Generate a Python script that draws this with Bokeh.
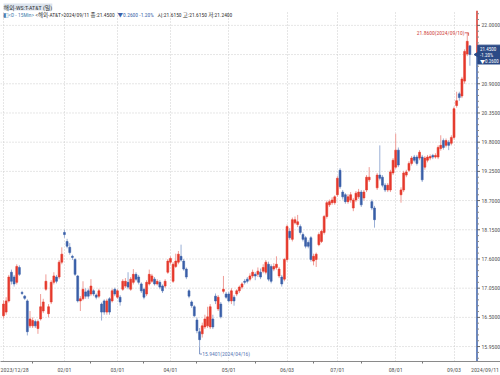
import math
import pandas as pd
from bokeh.plotting import figure
from bokeh.models import Range1d, FixedTicker, Label, ColumnDataSource
from bokeh.embed import file_html
from bokeh.resources import INLINE
from bokeh.core.properties import value

# ---------------- data (AT&T daily, 2023/12/28 - 2024/09/11) ----------------
holidays = ["2024-01-01", "2024-01-15", "2024-02-19", "2024-03-29",
            "2024-05-27", "2024-06-19", "2024-07-04", "2024-09-02"]

opens = [16.53,16.60,16.81,17.35,17.26,17.16,17.44,16.97,16.90,16.81,16.34,16.34,16.42,16.29,16.47,16.62,17.03,16.57,16.79,17.16,17.26,17.26,17.54,18.10,17.93,17.82,17.65,17.59,17.28,16.81,16.85,16.98,17.00,16.94,17.00,16.92,16.90,16.75,16.81,16.60,16.85,16.81,17.03,16.88,16.88,17.03,17.09,
         17.16,17.03,17.16,17.31,17.26,17.13,17.03,16.94,17.13,17.18,17.22,17.13,17.16,17.09,17.09,17.35,17.54,17.18,17.46,17.54,17.65,17.56,17.41,17.00,16.79,16.70,16.45,16.23,16.19,16.32,16.34,16.32,16.47,16.90,16.66,16.75,16.99,16.94,16.94,16.81,16.88,16.94,17.00,17.07,
         17.18,17.22,17.22,17.28,17.31,17.31,17.35,17.37,17.35,17.50,17.46,17.41,17.44,17.28,17.26,17.22,17.59,18.12,17.97,18.28,18.25,18.21,18.06,18.00,17.91,18.00,17.56,17.59,17.87,17.93,18.10,18.40,18.62,18.66,18.66,18.81,19.27,18.86,18.81,18.68,18.71,18.56,18.71,18.77,18.86,18.75,
         18.90,19.09,18.68,18.56,18.94,19.18,19.14,18.99,18.90,18.90,19.22,19.33,19.65,18.81,18.90,19.18,19.27,19.40,19.52,19.52,19.50,19.52,19.33,19.46,19.50,19.55,19.52,19.52,19.68,19.83,19.74,19.80,19.78,19.89,20.49,20.71,20.67,20.95,21.46,21.615]
highs = [16.82,16.88,17.30,17.40,17.30,17.50,17.48,17.00,16.92,16.84,16.62,16.50,16.46,16.46,16.94,16.85,17.31,16.75,17.20,17.35,17.30,17.58,17.82,18.15,17.98,17.90,17.68,17.62,17.30,16.90,17.18,17.05,17.04,17.22,17.03,16.95,17.04,16.78,16.84,16.85,16.88,17.04,17.06,17.03,16.92,17.22,17.24,
         17.35,17.26,17.41,17.35,17.30,17.16,17.06,17.20,17.40,17.32,17.26,17.22,17.20,17.12,17.22,17.60,17.65,17.54,17.70,17.75,17.87,17.60,17.44,17.03,16.82,16.73,16.50,16.30,16.40,16.55,16.70,16.75,16.55,16.95,16.92,16.79,17.28,16.98,16.98,17.05,16.92,17.03,17.10,17.16,
         17.22,17.26,17.33,17.40,17.35,17.44,17.42,17.50,17.58,17.55,17.50,17.52,17.65,17.45,17.30,17.62,18.25,18.18,18.38,18.40,18.43,18.25,18.10,18.03,17.95,18.03,17.70,17.72,18.10,18.15,18.43,18.70,18.72,18.76,18.80,19.16,19.31,18.90,18.84,18.82,18.86,18.75,18.88,18.92,18.90,18.90,
         19.18,19.33,18.72,18.60,19.22,19.74,19.18,19.03,19.03,19.28,19.50,19.96,19.70,18.95,19.26,19.28,19.44,19.54,19.56,19.56,19.65,19.56,19.54,19.56,19.57,19.58,19.59,19.74,19.93,19.87,19.87,19.84,19.93,20.47,20.75,20.75,21.03,21.55,21.86,21.615]
lows = [16.48,16.55,16.78,17.12,17.08,17.12,17.28,16.92,16.83,16.16,16.30,16.30,16.30,16.19,16.44,16.58,17.00,16.50,16.75,17.12,17.14,17.22,17.50,18.00,17.80,17.68,17.58,17.28,16.78,16.62,16.82,16.85,16.85,16.90,16.90,16.84,16.86,16.44,16.55,16.55,16.55,16.78,16.90,16.85,16.72,17.00,17.05,
        17.03,17.00,17.12,17.18,17.12,16.96,16.84,16.90,17.10,17.15,17.10,17.10,17.03,16.96,17.05,17.32,17.50,17.15,17.43,17.50,17.55,17.38,17.22,16.86,16.68,16.50,16.20,15.9401,16.12,16.28,16.30,16.28,16.28,16.75,16.62,16.48,16.95,16.85,16.78,16.75,16.72,16.90,16.96,17.03,
        17.12,17.14,17.18,17.24,17.20,17.26,17.22,17.33,17.31,17.18,17.14,17.37,17.40,17.24,17.08,17.18,17.55,17.96,17.93,18.25,18.20,18.06,17.93,17.80,17.80,17.55,17.48,17.45,17.84,17.90,18.06,18.36,18.58,18.62,18.62,18.77,18.92,18.72,18.64,18.64,18.66,18.50,18.67,18.73,18.58,18.70,
        18.86,19.05,18.52,18.19,18.90,19.08,18.95,18.86,18.86,18.86,19.18,19.30,19.33,18.66,18.86,19.14,19.24,19.36,19.42,19.36,19.46,19.05,19.28,19.42,19.46,19.48,19.49,19.48,19.64,19.66,19.70,19.65,19.74,19.85,20.45,20.58,20.63,20.90,21.42,21.24]
closes = [16.75,16.81,17.26,17.18,17.13,17.46,17.31,16.95,16.86,16.23,16.47,16.44,16.34,16.42,16.70,16.79,17.18,16.70,17.16,17.28,17.18,17.54,17.69,18.06,17.84,17.72,17.63,17.31,16.81,16.85,17.03,16.90,16.90,17.09,16.94,16.88,17.00,16.60,16.60,16.81,16.60,17.00,16.94,17.00,16.79,17.18,17.18,
          17.07,17.22,17.31,17.22,17.16,17.00,16.88,17.16,17.31,17.28,17.13,17.18,17.07,17.00,17.18,17.56,17.61,17.50,17.56,17.69,17.58,17.41,17.26,16.90,16.72,16.53,16.25,16.08,16.34,16.47,16.51,16.70,16.32,16.81,16.88,16.51,17.03,16.88,16.81,17.00,16.81,17.00,17.07,17.13,
          17.16,17.18,17.28,17.35,17.28,17.37,17.26,17.44,17.54,17.22,17.18,17.46,17.50,17.41,17.13,17.59,18.21,18.00,18.34,18.34,18.30,18.10,17.97,17.84,17.84,17.59,17.65,17.69,18.06,18.12,18.40,18.66,18.68,18.71,18.77,19.12,18.96,18.77,18.68,18.77,18.81,18.71,18.84,18.86,18.62,18.86,
          19.14,19.14,18.56,18.34,19.18,19.12,18.99,18.90,18.99,19.24,19.46,19.65,19.37,18.90,19.22,19.24,19.40,19.50,19.46,19.40,19.61,19.09,19.50,19.52,19.53,19.52,19.55,19.70,19.74,19.70,19.83,19.74,19.89,20.43,20.58,20.64,20.99,21.51,21.70,21.45]

ytick_values = [15.95, 16.50, 17.05, 17.60, 18.15, 18.70, 19.25, 19.80, 20.35, 20.90, 21.45, 22.00]
last_price = 21.45
change_text = "▼0.2600"
pct_text = "-1.20%"
title_text = "해외-WS:T-AT&T (일)"
header_parts = ["◧<D - 15Min>", "<해외-AT&T>2024/09/11 종:21.4500", "▼0.2600  -1.20%",
                "시:21.6150 고:21.6150 저:21.2400"]

# ---------------- derived ----------------
days = [d for d in pd.bdate_range("2023-12-28", "2024-09-11") if d.strftime("%Y-%m-%d") not in holidays]
n = min(len(days), len(opens))
days = days[:n]
idx = list(range(n))

W, H = 500, 375
TOP, BOT = 10, 11
FRAME_H = H - TOP - BOT
STEP = 2.65                      # px per trading day
x0 = -3 / STEP
x1 = x0 + W / STEP
px_x = (x1 - x0) / W
y1 = 22.0 + 15 * 0.55 / 29.45
y0 = y1 - FRAME_H * 0.55 / 29.45
px_y = (y1 - y0) / FRAME_H
axis_x = x0 + 476.5 * px_x

RED, BLUE = "#e5392c", "#3a5fa8"
RED_W, BLUE_W = "#ef9d97", "#9aafd6"
NAVY = "#2b4a86"
up = [c >= o for o, c in zip(opens[:n], closes[:n])]
src = ColumnDataSource(dict(
    x=idx,
    top=[max(o, c) for o, c in zip(opens[:n], closes[:n])],
    bot=[min(o, c) for o, c in zip(opens[:n], closes[:n])],
    hi=highs[:n], lo=lows[:n],
    col=[RED if u else BLUE for u in up],
    wcol=[RED_W if u else BLUE_W for u in up],
))

month_idx = [i for i in range(1, n) if days[i].month != days[i - 1].month and days[i].year == days[i - 1].year]
mid_idx = [i for i in range(1, n) if days[i].day >= 15 and days[i - 1].day < 15]

FONT = "Liberation Sans Narrow, Arial Narrow, Roboto Condensed, Noto Sans CJK KR, sans-serif"

p = figure(width=W, height=H, output_backend="svg", toolbar_location=None,
           x_range=Range1d(x0, x1), y_range=Range1d(y0, y1),
           y_axis_location=None,
           min_border_left=0, min_border_right=0, min_border_top=TOP, min_border_bottom=BOT,
           background_fill_color="white", border_fill_color="white", outline_line_color=None)

p.title.text = title_text
p.title.text_font_size = "6px"
p.title.text_font = FONT
p.title.text_font_style = "normal"
p.title.text_color = "#333333"
p.title.background_fill_color = "#dce4ee"
p.title.standoff = 0
p.title.offset = 3

# vertical grid (Bokeh grid), horizontal grid stops at the price axis
p.xgrid.ticker = FixedTicker(ticks=[0] + month_idx)
p.xgrid.grid_line_color = "#cccccc"
p.xgrid.grid_line_dash = "1 2"
p.ygrid.visible = False
p.segment(x0=[x0] * len(ytick_values), x1=[axis_x] * len(ytick_values),
          y0=ytick_values, y1=ytick_values, line_color="#cccccc", line_dash="1 2", line_width=1)

# bottom date axis
first_lab_pos = x0 + 13.5 * px_x
last_lab_pos = x0 + 484.5 * px_x
xtick_pos = [first_lab_pos] + month_idx + [last_lab_pos]
xtick_lab = {first_lab_pos: days[0].strftime("%Y/%m/%d"), last_lab_pos: days[-1].strftime("%Y/%m/%d")}
xtick_lab.update({i: days[i].strftime("%m/%d") for i in month_idx})
xa = p.xaxis[0]
xa.ticker = FixedTicker(ticks=xtick_pos, minor_ticks=mid_idx)
xa.major_label_overrides = xtick_lab
xa.major_label_text_font_size = "6px"
xa.major_label_text_font = FONT
xa.major_label_text_color = "#555555"
xa.axis_line_color = "#8a8a8a"
xa.major_tick_in = 0
xa.major_tick_out = 0
xa.minor_tick_in = 0
xa.minor_tick_out = 2
xa.minor_tick_line_color = "#777777"
xa.major_label_standoff = 2

# candles
p.segment(x0="x", x1="x", y0="lo", y1="hi", line_color="wcol", line_width=1, source=src)
p.vbar(x="x", width=0.72, top="top", bottom="bot", fill_color="col", line_color="col",
       line_width=0.6, source=src)

# price axis on the right: line (red above last price, blue below), ticks, labels
p.segment(x0=[axis_x, axis_x], x1=[axis_x, axis_x], y0=[last_price, y0], y1=[y1, last_price],
          line_color=["#d9342b", BLUE], line_width=1.5)
minor_vals = [round(15.95 + 0.11 * k, 2) for k in range(-2, 60)]
minor_vals = [v for v in minor_vals if y0 < v < y1 and all(abs(v - t) > 0.01 for t in ytick_values)]
p.segment(x0=[axis_x] * len(minor_vals), x1=[axis_x + 2 * px_x] * len(minor_vals),
          y0=minor_vals, y1=minor_vals, line_color="#8a8a8a", line_width=1)
p.segment(x0=[axis_x] * len(ytick_values), x1=[axis_x + 3 * px_x] * len(ytick_values),
          y0=ytick_values, y1=ytick_values, line_color="#666666", line_width=1)
p.text(x=[axis_x + 4.5 * px_x] * len(ytick_values), y=ytick_values,
       text=[f"{v:.4f}" for v in ytick_values], text_align="left", text_baseline="middle",
       text_font_size="5.8px", text_font=value(FONT), text_color="#555555")

# current price box
p.quad(left=[axis_x + 0.8 * px_x], right=[x1], top=[last_price + 9.5 * px_y],
       bottom=[last_price - 9.5 * px_y], fill_color=NAVY, line_color=NAVY)
p.scatter(x=[axis_x + 0.5 * px_x], y=[last_price], marker="triangle", angle=math.pi / 2,
          size=6, fill_color=NAVY, line_color=NAVY)
p.text(x=[axis_x + 3 * px_x] * 3,
       y=[last_price + 6 * px_y, last_price, last_price - 6 * px_y],
       text=[f"{last_price:.4f}", pct_text, change_text], text_align="left", text_baseline="middle",
       text_font_size="5px", text_font=value(FONT), text_color="white")

# high annotation
hi_i = max(idx, key=lambda i: highs[i])
hi_v = highs[hi_i]
p.segment(x0=[hi_i - 0.9, hi_i + 0.5], x1=[hi_i + 0.5, hi_i + 0.5],
          y0=[hi_v, hi_v], y1=[hi_v, hi_v - 3 * px_y], line_color="#d0453e", line_width=0.8)
p.add_layout(Label(x=hi_i - 1.0, y=hi_v, text=f"{hi_v:.4f}({days[hi_i].strftime('%Y/%m/%d')})",
                   text_align="right", text_baseline="middle", text_font_size="5.6px",
                   text_font=FONT, text_color="#d0453e"))

# low annotation
lo_i = min(idx, key=lambda i: lows[i])
lo_v = lows[lo_i]
lo_y = lo_v - 7 * px_y
p.segment(x0=[lo_i, lo_i], x1=[lo_i, lo_i + 0.9], y0=[lo_v, lo_y], y1=[lo_y, lo_y],
          line_color="#5b79b5", line_width=0.8)
p.add_layout(Label(x=lo_i + 1.0, y=lo_y, text=f"{lo_v:.4f}({days[lo_i].strftime('%Y/%m/%d')})",
                   text_align="left", text_baseline="middle", text_font_size="5.6px",
                   text_font=FONT, text_color="#5b79b5"))

# header line
for off, txt, colr in zip([2, 35, 117, 157], header_parts,
                          ["#4a7fb0", "#333333", BLUE, "#333333"]):
    p.add_layout(Label(x=x0, y=y1, x_offset=off, y_offset=-1, text=txt,
                       text_align="left", text_baseline="top", text_font_size="5.5px",
                       text_font=FONT, text_color=colr))

open("out.html", "w").write(file_html(p, INLINE))
